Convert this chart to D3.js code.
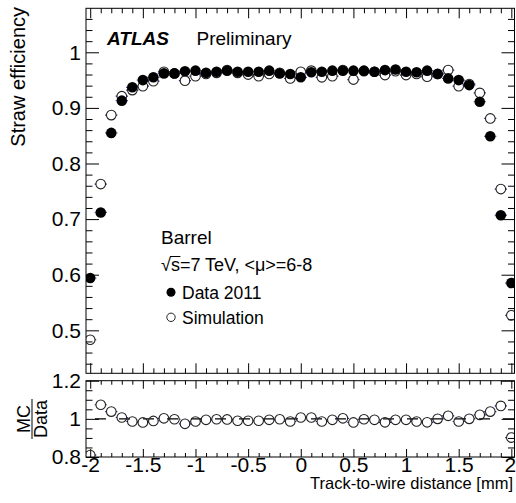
<!DOCTYPE html>
<html>
<head>
<meta charset="utf-8">
<script src="https://cdn.jsdelivr.net/npm/d3@7"></script>
<style>
body { margin: 0; background: #fff; }
svg { display: block; font-family: "Liberation Sans", Arial, Helvetica, sans-serif; }
</style>
</head>
<body>
<div id="container"></div>
<script>
const WIDTH = 516;
const HEIGHT = 503;

// bin centres (track-to-wire distance, mm)
var X_BINS = [-2.0, -1.9, -1.8, -1.7, -1.6, -1.5, -1.4, -1.3, -1.2, -1.1,
    -1.0, -0.9, -0.8, -0.7, -0.6, -0.5, -0.4, -0.3, -0.2, -0.1,
    0.0, 0.1, 0.2, 0.3, 0.4, 0.5, 0.6, 0.7, 0.8, 0.9,
    1.0, 1.1, 1.2, 1.3, 1.4, 1.5, 1.6, 1.7, 1.8, 1.9, 2.0];

var DATA_EFF = [0.594, 0.712, 0.855, 0.913, 0.937, 0.950, 0.955, 0.962, 0.962, 0.966,
    0.967, 0.963, 0.965, 0.967, 0.965, 0.965, 0.965, 0.967, 0.962, 0.961,
    0.955, 0.964, 0.965, 0.967, 0.967, 0.967, 0.967, 0.965, 0.968, 0.969,
    0.965, 0.964, 0.967, 0.961, 0.953, 0.950, 0.941, 0.911, 0.849, 0.707, 0.585];

var SIM_EFF = [0.483, 0.763, 0.887, 0.921, 0.932, 0.939, 0.948, 0.965, 0.962, 0.949,
    0.957, 0.961, 0.963, 0.968, 0.963, 0.960, 0.957, 0.961, 0.963, 0.953,
    0.965, 0.967, 0.955, 0.957, 0.968, 0.951, 0.966, 0.965, 0.959, 0.966,
    0.959, 0.961, 0.956, 0.961, 0.968, 0.939, 0.943, 0.927, 0.881, 0.754, 0.527];

var RATIO = [0.810, 1.074, 1.038, 1.007, 0.986, 0.981, 0.989, 1.003, 0.998, 0.974,
    0.986, 0.995, 0.998, 0.997, 0.990, 0.990, 0.990, 0.995, 0.998, 0.986,
    1.007, 1.007, 0.986, 0.995, 1.003, 0.981, 0.998, 0.995, 0.982, 0.995,
    0.995, 0.986, 0.982, 1.000, 1.016, 0.986, 1.000, 1.021, 1.038, 1.068, 0.902];

var X_TICKS = [-2, -1.5, -1, -0.5, 0, 0.5, 1, 1.5, 2];
var Y_TICKS = [0.5, 0.6, 0.7, 0.8, 0.9, 1];
var RATIO_TICKS = [0.8, 1, 1.2];

const LEFT = 86;
const RIGHT = 514.5;
const TOP_Y0 = 8.3;
const TOP_Y1 = 373.3;
const RAT_Y0 = 380.7;
const RAT_Y1 = 457;
const MARKER_R = 5.3;
const OPEN_R = 4.8;
const BAR_COLOR = "#1a1a8c";

var XScale = d3.scaleLinear().domain([-2.04, 2.03]).range([LEFT, RIGHT]);
var YScale = d3.scaleLinear().domain([0.4227, 1.0791]).range([TOP_Y1, TOP_Y0]);
var RScale = d3.scaleLinear().domain([0.8, 1.2]).range([RAT_Y1, RAT_Y0]);

var xMinor = d3.range(-20, 21).map(function (i) { return i / 10; })
    .filter(function (v) { return Math.abs(v * 2 - Math.round(v * 2)) > 1e-6; });
var yMinor = d3.range(22, 54).map(function (i) { return i / 50; })
    .filter(function (v) { return Math.abs(v * 10 - Math.round(v * 10)) > 1e-6 && v < 1.079; });
var rMinor = [0.85, 0.9, 0.95, 1.05, 1.1, 1.15];

var translate = function (x, y) {
    return "translate(" + x + "," + y + ")";
};

var drawTicks = function (svg, axisFn, scale, values, size, at, labels, pad) {
    var axis = axisFn(scale)
        .tickValues(values)
        .tickSize(-size)
        .tickPadding(labels ? pad : 0)
        .tickFormat(labels ? function (d) { return String(d); } : "");
    var g = svg.append("g")
        .attr("transform", at)
        .call(axis)
        .attr("font-size", 21)
        .attr("font-family", null)
        .style("color", "#000");
    g.select(".domain").remove();
    return g;
};

var drawFrame = function (svg, y0, y1) {
    svg.append("rect")
        .attr("x", LEFT).attr("y", y0)
        .attr("width", RIGHT - LEFT).attr("height", y1 - y0)
        .attr("fill", "none").attr("stroke", "#000").attr("stroke-width", 1);
};

var pointsOf = function (values) {
    return X_BINS.map(function (x, i) { return {x: x, y: values[i]}; });
};

var drawSeries = function (svg, pts, yScale, filled) {
    var g = svg.append("g");
    var r = filled ? MARKER_R : OPEN_R;
    // horizontal bin-width bars, only the part outside the marker
    [-1, 1].forEach(function (side) {
        g.selectAll("line.s" + side).data(pts).enter().append("line")
            .attr("x1", function (d) { return XScale(d.x) + side * r; })
            .attr("x2", function (d) { return XScale(d.x + side * 0.05) + side * 0.8; })
            .attr("y1", function (d) { return yScale(d.y); })
            .attr("y2", function (d) { return yScale(d.y); })
            .attr("stroke", BAR_COLOR).attr("stroke-width", 1.2);
    });
    g.selectAll("circle").data(pts).enter().append("circle")
        .attr("cx", function (d) { return XScale(d.x); })
        .attr("cy", function (d) { return yScale(d.y); })
        .attr("r", r)
        .attr("fill", filled ? "#000" : "none")
        .attr("stroke", filled ? "none" : "#222")
        .attr("stroke-width", 1.1);
};

var generateChart = function () {
    var svg = d3.select("#container").append("svg")
        .attr("width", WIDTH).attr("height", HEIGHT);

    // ---- top panel
    svg.append("clipPath").attr("id", "topclip").append("rect")
        .attr("x", LEFT).attr("y", TOP_Y0).attr("width", RIGHT - LEFT).attr("height", TOP_Y1 - TOP_Y0);

    drawTicks(svg, d3.axisBottom, XScale, X_TICKS, 10, translate(0, TOP_Y1), false);
    drawTicks(svg, d3.axisBottom, XScale, xMinor, 5, translate(0, TOP_Y1), false);
    drawTicks(svg, d3.axisTop, XScale, X_TICKS, 10, translate(0, TOP_Y0), false);
    drawTicks(svg, d3.axisTop, XScale, xMinor, 5, translate(0, TOP_Y0), false);
    drawTicks(svg, d3.axisLeft, YScale, Y_TICKS, 13, translate(LEFT, 0), true, 5);
    drawTicks(svg, d3.axisLeft, YScale, yMinor, 6.5, translate(LEFT, 0), false);
    drawTicks(svg, d3.axisRight, YScale, Y_TICKS, 13, translate(RIGHT, 0), false);
    drawTicks(svg, d3.axisRight, YScale, yMinor, 6.5, translate(RIGHT, 0), false);
    drawFrame(svg, TOP_Y0, TOP_Y1);

    var plot = svg.append("g").attr("clip-path", "url(#topclip)");
    drawSeries(plot, pointsOf(SIM_EFF), YScale, false);
    drawSeries(plot, pointsOf(DATA_EFF), YScale, true);

    svg.append("text")
        .attr("transform", "translate(25,7) rotate(-90)")
        .attr("text-anchor", "end")
        .attr("font-size", 20)
        .text("Straw efficiency");

    svg.append("text")
        .attr("x", 107).attr("y", 44.5)
        .attr("font-size", 19).attr("font-weight", "bold").attr("font-style", "italic")
        .text("ATLAS");
    svg.append("text")
        .attr("x", 196.5).attr("y", 44.5)
        .attr("font-size", 19)
        .text("Preliminary");

    // legend block
    svg.append("text").attr("x", 161).attr("y", 244.3).attr("font-size", 19).text("Barrel");
    var energy = svg.append("text").attr("x", 161).attr("y", 270.5).attr("font-size", 18);
    energy.append("tspan").text("\u221A");
    energy.append("tspan").text("s");
    energy.append("tspan").text("=7 TeV, <\u03BC>=6-8");
    var node = energy.node();
    var sx0 = node.getStartPositionOfChar(1).x;
    var sx1 = node.getEndPositionOfChar(1).x;
    svg.append("line")
        .attr("x1", sx0 - 1).attr("x2", sx1 + 0.5)
        .attr("y1", 270.5 - 14).attr("y2", 270.5 - 14)
        .attr("stroke", "#000").attr("stroke-width", 1);

    svg.append("circle").attr("cx", 171).attr("cy", 292.3).attr("r", 4.5).attr("fill", "#000");
    svg.append("text").attr("x", 182).attr("y", 298.5).attr("font-size", 17.5).text("Data 2011");
    svg.append("circle").attr("cx", 171).attr("cy", 317.3).attr("r", 4.2)
        .attr("fill", "none").attr("stroke", "#222").attr("stroke-width", 1);
    svg.append("text").attr("x", 182).attr("y", 323.5).attr("font-size", 17.5).text("Simulation");

    // ---- ratio panel
    svg.append("clipPath").attr("id", "ratclip").append("rect")
        .attr("x", LEFT).attr("y", RAT_Y0).attr("width", RIGHT - LEFT).attr("height", RAT_Y1 - RAT_Y0);

    var xLab = drawTicks(svg, d3.axisBottom, XScale, X_TICKS, 8, translate(0, RAT_Y1), true, 0);
    // keep the last label inside the page edge
    xLab.selectAll(".tick text").filter(function (d) { return d === 2; }).attr("dx", -1.5);
    drawTicks(svg, d3.axisBottom, XScale, xMinor, 4, translate(0, RAT_Y1), false);
    drawTicks(svg, d3.axisTop, XScale, X_TICKS, 8, translate(0, RAT_Y0), false);
    drawTicks(svg, d3.axisTop, XScale, xMinor, 4, translate(0, RAT_Y0), false);
    drawTicks(svg, d3.axisLeft, RScale, RATIO_TICKS, 13, translate(LEFT, 0), true, 5);
    drawTicks(svg, d3.axisLeft, RScale, rMinor, 6.5, translate(LEFT, 0), false);
    drawTicks(svg, d3.axisRight, RScale, RATIO_TICKS, 13, translate(RIGHT, 0), false);
    drawTicks(svg, d3.axisRight, RScale, rMinor, 6.5, translate(RIGHT, 0), false);
    drawFrame(svg, RAT_Y0, RAT_Y1);

    var rplot = svg.append("g").attr("clip-path", "url(#ratclip)");
    rplot.append("line")
        .attr("x1", LEFT).attr("x2", RIGHT)
        .attr("y1", RScale(1)).attr("y2", RScale(1))
        .attr("stroke", "#000").attr("stroke-width", 1.3)
        .attr("stroke-dasharray", "11,13").attr("stroke-dashoffset", 15);
    drawSeries(rplot, pointsOf(RATIO), RScale, false);

    var frac = svg.append("g").attr("transform", "translate(32,419) rotate(-90)");
    frac.append("text").attr("x", 0).attr("y", -2.5).attr("text-anchor", "middle")
        .attr("font-size", 18).text("MC");
    frac.append("line").attr("x1", -20).attr("x2", 20).attr("y1", 0).attr("y2", 0)
        .attr("stroke", "#000").attr("stroke-width", 1);
    frac.append("text").attr("x", 0).attr("y", 14.5).attr("text-anchor", "middle")
        .attr("font-size", 18).text("Data");

    svg.append("text")
        .attr("x", 513).attr("y", 489)
        .attr("text-anchor", "end")
        .attr("font-size", 16.5)
        .text("Track-to-wire distance [mm]");
};

window.onload = generateChart;
</script>
</body>
</html>
